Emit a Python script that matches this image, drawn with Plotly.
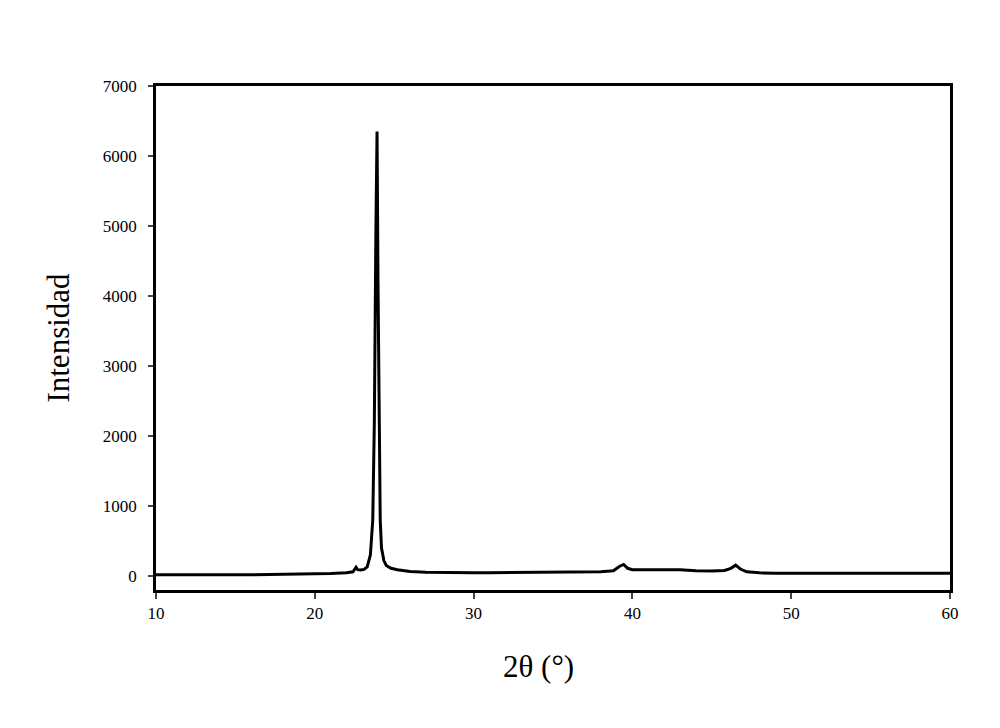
"""XRD pattern: intensity vs 2-theta."""

import plotly.graph_objects as go

two_theta = [
    10, 11, 12, 13, 14, 15, 16, 17, 18, 19, 20, 21, 22, 22.4, 22.6, 22.7, 22.9,
    23.1, 23.3, 23.5, 23.65, 23.75, 23.85, 23.92, 23.98, 24.05, 24.12, 24.2,
    24.35, 24.5, 24.8, 25.2, 26, 27, 28, 29, 30, 31, 32, 33, 34, 35, 36, 37, 38,
    38.8, 39.2, 39.45, 39.7, 40, 41, 42, 43, 44, 45, 45.8, 46.2, 46.5, 46.8,
    47.2, 48, 49, 50, 51, 52, 53, 54, 55, 56, 57, 58, 59, 60,
]
intensity = [
    18, 20, 17, 19, 21, 19, 17, 19, 21, 24, 27, 34, 45, 60, 125, 90, 85,
    95, 130, 300, 800, 2200, 5000, 6350, 4200, 2000, 800, 400,
    220, 150, 110, 90, 65, 55, 50, 50, 48, 47, 48, 50, 55, 52, 55, 58, 62,
    75, 140, 165, 110, 90, 90, 95, 90, 75, 70, 80, 110, 155, 100,
    60, 45, 40, 38, 37, 35, 38, 35, 38, 40, 40, 38, 40, 40,
]

x_ticks = [10, 20, 30, 40, 50, 60]
y_ticks = [0, 1000, 2000, 3000, 4000, 5000, 6000, 7000]

fig = go.Figure()
fig.add_trace(
    go.Scatter(
        x=two_theta,
        y=intensity,
        mode="lines",
        line=dict(color="black", width=3),
        showlegend=False,
    )
)

font = "Liberation Serif, Times New Roman, serif"
fig.update_layout(
    width=1000,
    height=728,
    plot_bgcolor="white",
    paper_bgcolor="white",
    margin=dict(l=148, r=58, t=78, b=146),
    font=dict(family=font, color="black", size=17),
)
# x title sits a little left of centre in the original, so place it by hand
fig.add_annotation(
    text="2θ (°)",
    xref="paper",
    yref="paper",
    x=0.482,
    y=-0.152,
    xanchor="center",
    yanchor="middle",
    showarrow=False,
    font=dict(size=31),
)
fig.update_xaxes(
    range=[10, 60],
    tickvals=x_ticks,
    ticks="outside",
    ticklen=6,
    tickwidth=2,
    showline=True,
    linecolor="black",
    linewidth=2.5,
    mirror=True,
    showgrid=False,
    zeroline=False,
)
fig.update_yaxes(
    range=[-200, 7000],
    tickvals=y_ticks,
    ticks="outside",
    ticklen=5,
    tickwidth=2,
    ticklabelstandoff=8,
    showline=True,
    linecolor="black",
    linewidth=2.5,
    mirror=True,
    showgrid=False,
    zeroline=False,
    title=dict(text="Intensidad", font=dict(size=31), standoff=24),
)

fig.write_html("out.html")
